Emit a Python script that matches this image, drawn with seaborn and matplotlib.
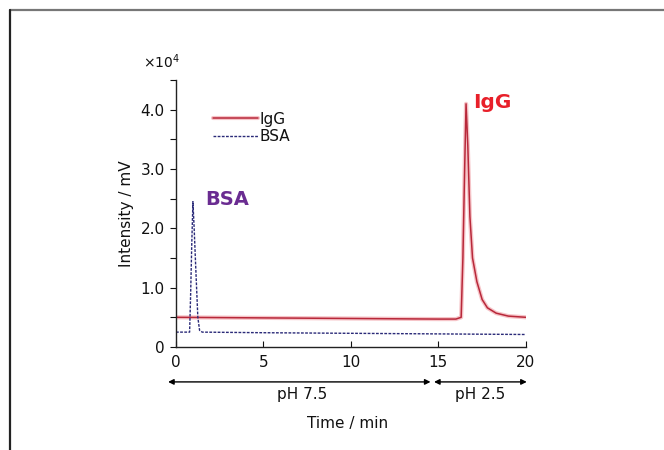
import seaborn as sns
import matplotlib.pyplot as plt
import matplotlib.patheffects as pe
from matplotlib.lines import Line2D
import pandas as pd

# chromatogram (intensity in units of 1e4 mV)
igg_time = [0, 5, 10, 15, 16.0, 16.3, 16.4, 16.5, 16.58, 16.68, 16.8, 16.95,
            17.2, 17.5, 17.8, 18.3, 19.0, 20.0]
igg_int = [0.50, 0.49, 0.48, 0.47, 0.47, 0.50, 1.5, 3.0, 4.1, 3.4, 2.2, 1.5,
           1.1, 0.8, 0.66, 0.57, 0.52, 0.50]

bsa_time = [0, 0.78, 0.84, 0.9, 0.97, 1.04, 1.15, 1.25, 1.35, 1.5, 5, 10,
            15, 20]
bsa_int = [0.25, 0.25, 0.9, 1.7, 2.45, 2.0, 1.2, 0.5, 0.28, 0.25, 0.24, 0.23,
           0.22, 0.21]

y_ticks = [0, 0.5, 1.0, 1.5, 2.0, 2.5, 3.0, 3.5, 4.0, 4.5]
y_labels = ['0', '', '1.0', '', '2.0', '', '3.0', '', '4.0', '']
x_ticks = [0, 5, 10, 15, 20]

igg = pd.DataFrame({'Time': igg_time, 'Intensity': igg_int})
bsa = pd.DataFrame({'Time': bsa_time, 'Intensity': bsa_int})

sns.set_style('ticks')
plt.rcParams['font.family'] = ['DejaVu Sans']
plt.rcParams['text.color'] = '#111111'
plt.rcParams['axes.labelcolor'] = '#111111'
plt.rcParams['xtick.color'] = '#111111'
plt.rcParams['ytick.color'] = '#111111'

fig = plt.figure(figsize=(6.64, 4.5), dpi=100)
ax = fig.add_axes([0.265, 0.229, 0.527, 0.593])

sns.lineplot(data=igg, x='Time', y='Intensity', ax=ax, color='#b8283a',
             linewidth=1.1, label='IgG',
             path_effects=[pe.Stroke(linewidth=3, foreground='#f6c4c8'), pe.Normal()])
sns.lineplot(data=bsa, x='Time', y='Intensity', ax=ax, color='#2a2a78',
             linewidth=1.0, linestyle=(0, (2, 1)), label='BSA')

ax.set_xlim(0, 20)
ax.set_ylim(0, 4.5)
ax.set_xticks(x_ticks)
ax.set_yticks(y_ticks)
ax.set_yticklabels(y_labels)
ax.tick_params(axis='x', direction='in', length=4, labelsize=11, pad=6)
ax.tick_params(axis='y', direction='out', length=4, labelsize=11, pad=4)
sns.despine(ax=ax)
for s in ['left', 'bottom']:
    ax.spines[s].set_linewidth(1.0)
    ax.spines[s].set_color('#222222')

ax.set_xlabel('')
ax.set_ylabel('Intensity / mV', fontsize=11, labelpad=5)

ax.text(-0.04, 1.07, '×10$^4$', transform=ax.transAxes, fontsize=10,
        ha='center', va='center')

leg = ax.legend(loc='upper left', bbox_to_anchor=(0.085, 0.91), frameon=False,
                fontsize=11, handlelength=2.9, handletextpad=0.1,
                borderpad=0, labelspacing=0.15)

ax.text(1.65, 2.48, 'BSA', color='#6a2c91', fontsize=14, fontweight='bold',
        ha='left', va='center')
ax.text(17.0, 4.13, 'IgG', color='#e8202a', fontsize=14.5, fontweight='bold',
        ha='left', va='center')

# pH ranges under the axis
tr = ax.get_xaxis_transform()
arrow = dict(arrowstyle='<|-|>', color='black', lw=1.0, mutation_scale=8,
             shrinkA=0, shrinkB=0)
ax.annotate('', xy=(-0.45, -0.131), xytext=(14.55, -0.131), xycoords=tr,
            textcoords=tr, arrowprops=arrow, annotation_clip=False)
ax.annotate('', xy=(14.75, -0.131), xytext=(20.05, -0.131), xycoords=tr,
            textcoords=tr, arrowprops=arrow, annotation_clip=False)
ax.text(7.2, -0.18, 'pH 7.5', transform=tr, fontsize=11, ha='center', va='center')
ax.text(17.4, -0.18, 'pH 2.5', transform=tr, fontsize=11, ha='center', va='center')
ax.text(0.49, -0.288, 'Time / min', transform=ax.transAxes, fontsize=11,
        ha='center', va='center')

# outer frame
fig.add_artist(Line2D([0.015, 1.0], [0.978, 0.978], transform=fig.transFigure,
                      color='#777777', linewidth=1.6))
fig.add_artist(Line2D([0.015, 0.015], [0.0, 0.978], transform=fig.transFigure,
                      color='#222222', linewidth=1.6))

fig.savefig('out.png', dpi=100)
